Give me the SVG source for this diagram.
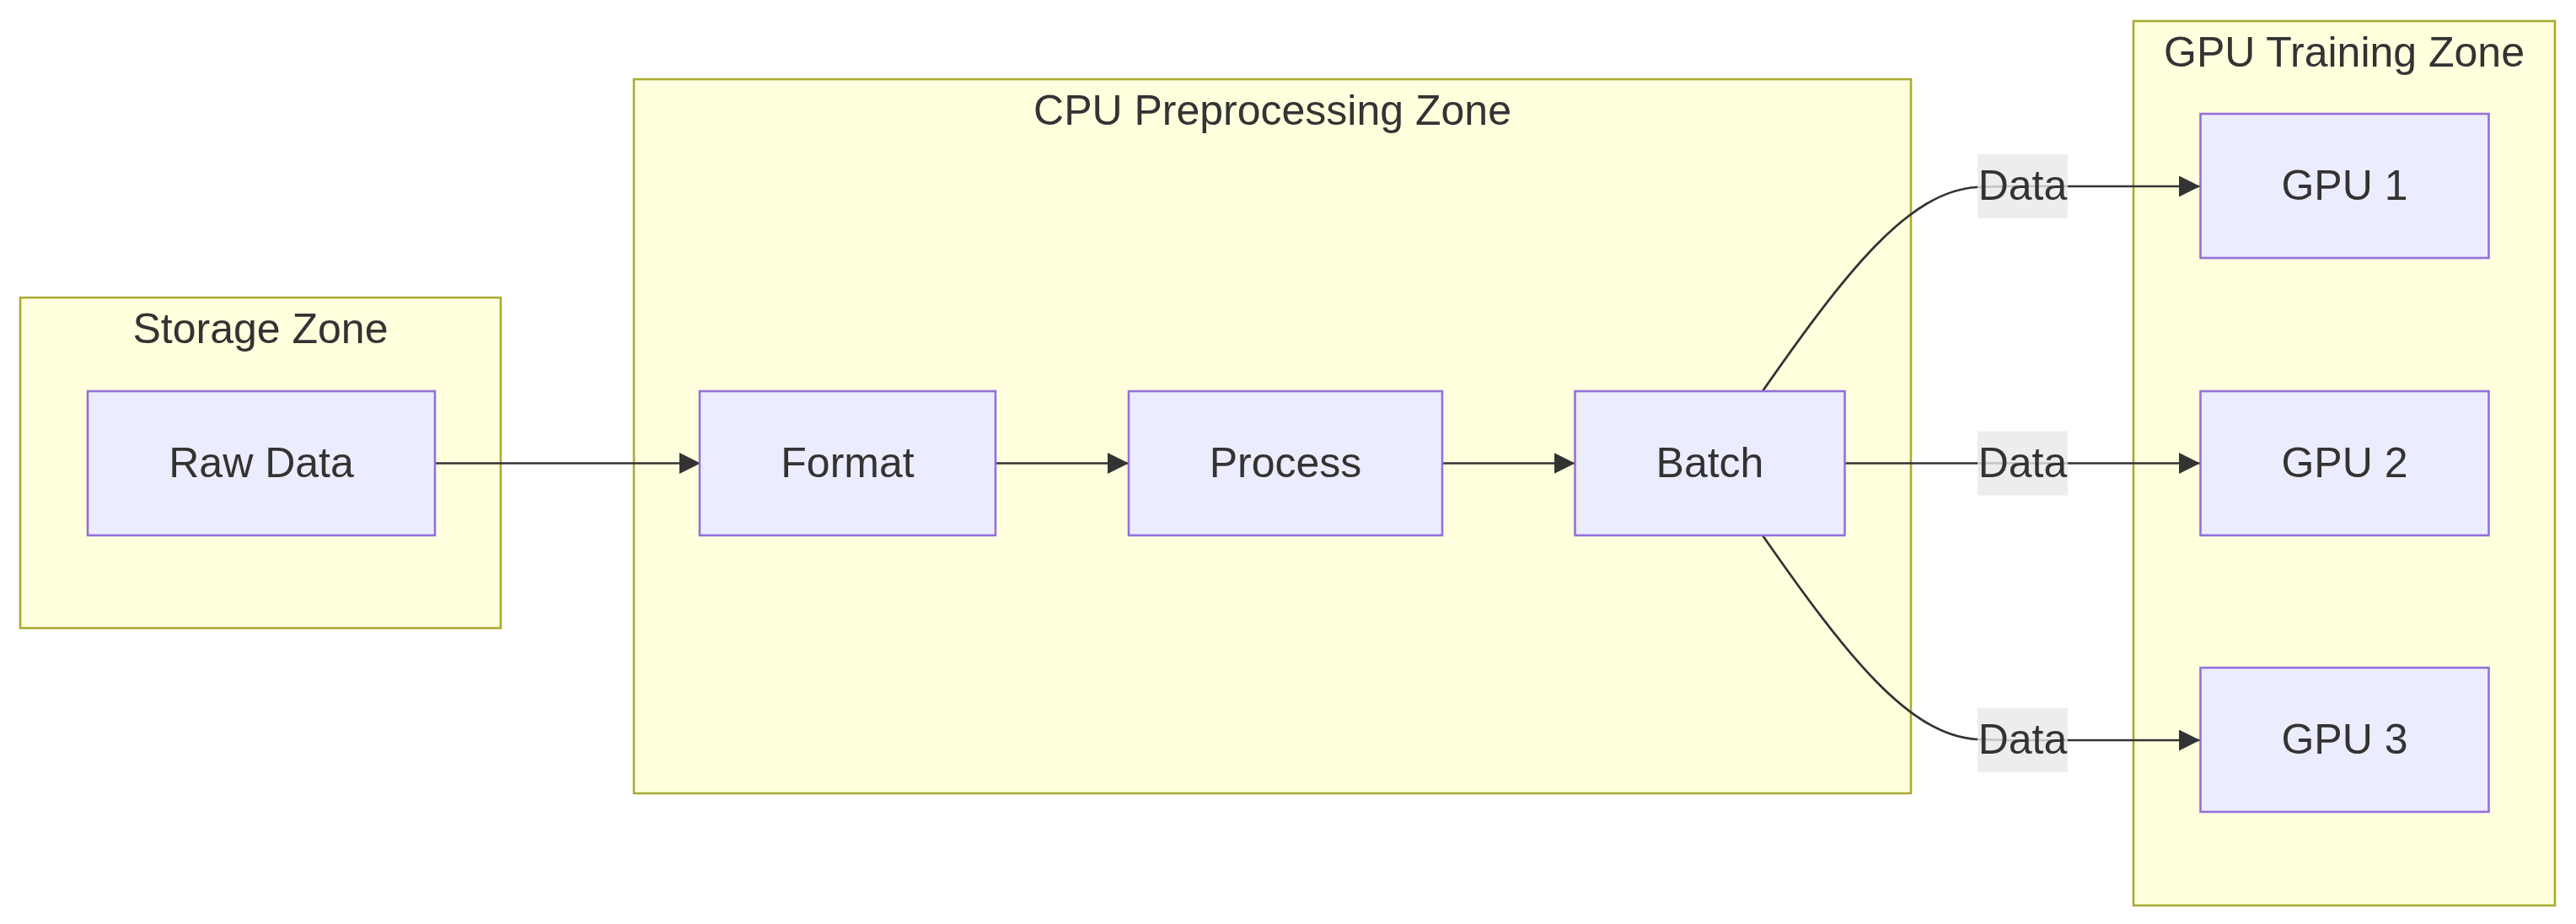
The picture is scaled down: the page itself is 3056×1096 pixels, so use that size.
<svg xmlns="http://www.w3.org/2000/svg" width="3056" height="1096" viewBox="0 0 3056 1096">
<style>
  .zone { fill: #ffffde; stroke: #aaaa33; stroke-width: 2.6; }
  .node rect { fill: #ececff; stroke: #9370db; stroke-width: 2.6; }
  text { font-family: "Liberation Sans", Arial, sans-serif; font-size: 50px; fill: #333333; text-anchor: middle; }
  .edge { fill: none; stroke: #333333; stroke-width: 2.7; }
  .lbl { fill: #e8e8e8; fill-opacity: 0.8; }
</style>
<defs>
  <marker id="arrow" markerUnits="userSpaceOnUse" markerWidth="25" markerHeight="25" refX="25" refY="12.5" orient="auto">
    <path d="M0,0 L25,12.5 L0,25 z" fill="#333333"/>
  </marker>
</defs>
<rect width="3056" height="1096" fill="#ffffff"/>

<g id="storage-zone">
  <rect class="zone" x="24" y="353" width="570" height="392"/>
  <text x="309" y="407">Storage Zone</text>
</g>
<g id="cpu-zone">
  <rect class="zone" x="752" y="94" width="1515" height="847"/>
  <text x="1509.5" y="148">CPU Preprocessing Zone</text>
</g>
<g id="gpu-zone">
  <rect class="zone" x="2531" y="25" width="500" height="1049"/>
  <text x="2781" y="79">GPU Training Zone</text>
</g>

<g id="connectors">
  <path class="edge" d="M516,549.5 L831,549.5" marker-end="url(#arrow)"/>
  <path class="edge" d="M1181,549.5 L1339,549.5" marker-end="url(#arrow)"/>
  <path class="edge" d="M1711,549.5 L1868.5,549.5" marker-end="url(#arrow)"/>
  <path class="edge" d="M2091,464 C2190,322 2265,226 2346,222 L2380,221 L2610,221" marker-end="url(#arrow)"/>
  <path class="edge" d="M2188.5,549.5 L2610,549.5" marker-end="url(#arrow)"/>
  <path class="edge" d="M2091,635 C2190,777 2265,873 2346,877 L2380,878 L2610,878" marker-end="url(#arrow)"/>
  <g id="label-1"><rect class="lbl" x="2346" y="183" width="107" height="76"/><text x="2399.5" y="237">Data</text></g>
  <g id="label-2"><rect class="lbl" x="2346" y="511.5" width="107" height="76"/><text x="2399.5" y="565.5">Data</text></g>
  <g id="label-3"><rect class="lbl" x="2346" y="840" width="107" height="76"/><text x="2399.5" y="894">Data</text></g>
</g>

<g id="raw-data" class="node">
  <rect x="104" y="464" width="412" height="171"/>
  <text x="310" y="565.5">Raw Data</text>
</g>
<g id="format" class="node">
  <rect x="830" y="464" width="351" height="171"/>
  <text x="1005.5" y="565.5">Format</text>
</g>
<g id="process" class="node">
  <rect x="1339" y="464" width="372" height="171"/>
  <text x="1525" y="565.5">Process</text>
</g>
<g id="batch" class="node">
  <rect x="1868.5" y="464" width="320" height="171"/>
  <text x="2028.5" y="565.5">Batch</text>
</g>
<g id="gpu-1" class="node">
  <rect x="2610.5" y="135" width="342" height="171"/>
  <text x="2781.5" y="236.5">GPU 1</text>
</g>
<g id="gpu-2" class="node">
  <rect x="2610.5" y="464" width="342" height="171"/>
  <text x="2781.5" y="565.5">GPU 2</text>
</g>
<g id="gpu-3" class="node">
  <rect x="2610.5" y="792" width="342" height="171"/>
  <text x="2781.5" y="893.5">GPU 3</text>
</g>
</svg>
